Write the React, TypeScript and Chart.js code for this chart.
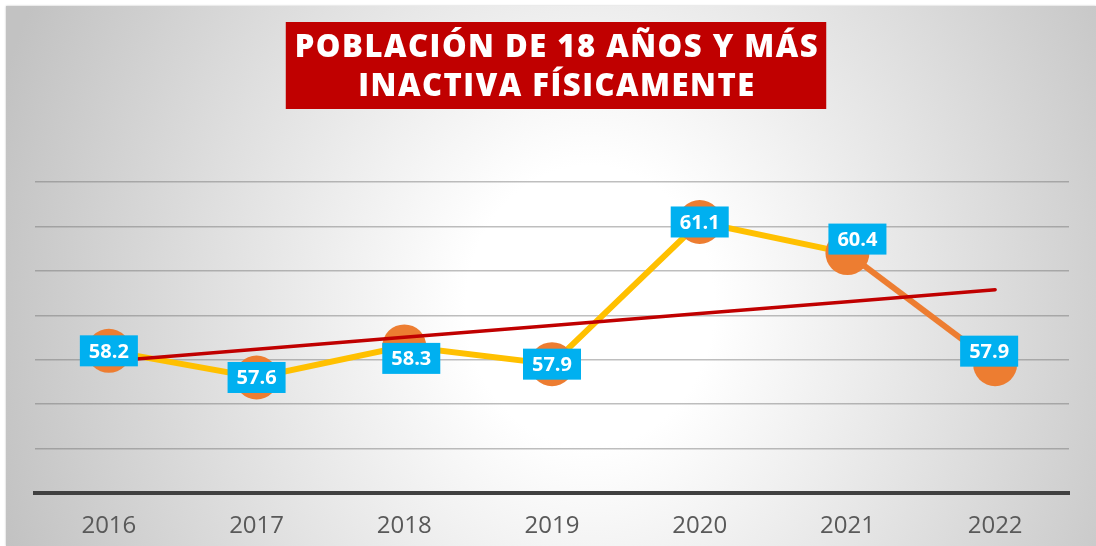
import React, { useEffect, useRef } from "react";
import { Chart, registerables } from "chart.js";

Chart.register(...registerables);

// ---- data ----
const years: string[] = ["2016", "2017", "2018", "2019", "2020", "2021", "2022"];
const inactivity: number[] = [58.2, 57.6, 58.3, 57.9, 61.1, 60.4, 57.9];
const titleLines: string[] = ["POBLACIÓN DE 18 AÑOS Y MÁS", "INACTIVA FÍSICAMENTE"];
const yMin = 55;
const yMax = 62;

// Least-squares linear trend line through the series (as a spreadsheet trendline)
function linearTrend(values: number[]): number[] {
  const n = values.length;
  const mx = (n - 1) / 2;
  const my = values.reduce((a, b) => a + b, 0) / n;
  let sxy = 0;
  let sxx = 0;
  values.forEach((v, i) => {
    sxy += (i - mx) * (v - my);
    sxx += (i - mx) * (i - mx);
  });
  const slope = sxy / sxx;
  return values.map((_, i) => my + slope * (i - mx));
}

// label box nudges (style)
const labelNudge: [number, number][] = [
  [0, 0],
  [0, 0],
  [7, 12],
  [0, 0],
  [0, 0],
  [10, -14],
  [-6, -13],
];

const titlePlugin = {
  id: "titleBox",
  afterDraw(chart: any) {
    const ctx = chart.ctx as CanvasRenderingContext2D;
    ctx.save();
    ctx.font = "800 31px 'Open Sans'";
    (ctx as any).letterSpacing = "1.5px";
    const widths = titleLines.map((l) => ctx.measureText(l).width);
    const boxW = Math.max(...widths) + 16;
    const cx = chart.width / 2 + 5;
    const top = chart.chartArea.top - 160;
    const h = 87;
    ctx.fillStyle = "#C00000";
    ctx.fillRect(cx - boxW / 2, top, boxW, h);
    ctx.fillStyle = "#FFFFFF";
    ctx.textAlign = "center";
    ctx.textBaseline = "middle";
    ctx.fillText(titleLines[0], cx + 1, top + 26);
    ctx.fillText(titleLines[1], cx + 1, top + 65);
    ctx.restore();
  },
};

const labelPlugin = {
  id: "valueLabels",
  afterDatasetsDraw(chart: any) {
    const ctx = chart.ctx as CanvasRenderingContext2D;
    const meta = chart.getDatasetMeta(0);
    ctx.save();
    ctx.font = "bold 20px 'Open Sans'";
    ctx.textAlign = "center";
    ctx.textBaseline = "middle";
    meta.data.forEach((pt: any, i: number) => {
      const text = inactivity[i].toFixed(1);
      const w = ctx.measureText(text).width + 18;
      const h = 31;
      const cx = pt.x + labelNudge[i][0];
      const cy = pt.y + labelNudge[i][1];
      ctx.fillStyle = "#00B0F0";
      ctx.fillRect(cx - w / 2, cy - h / 2, w, h);
      ctx.fillStyle = "#FFFFFF";
      ctx.fillText(text, cx, cy + 1);
    });
    ctx.restore();
  },
};

export default function App() {
  const canvasRef = useRef<HTMLCanvasElement | null>(null);

  useEffect(() => {
    if (!canvasRef.current) return;
    const trend = linearTrend(inactivity);
    const chart = new Chart(canvasRef.current, {
      type: "line",
      data: {
        labels: years,
        datasets: [
          {
            label: "Población inactiva",
            data: inactivity,
            borderColor: "#FFC000",
            borderWidth: 6,
            pointRadius: 22,
            pointHoverRadius: 22,
            pointBackgroundColor: "#ED7D31",
            pointBorderWidth: 0,
            tension: 0,
            order: 2,
            segment: {
              borderColor: (c: any) => (c.p0DataIndex === 5 ? "#ED7D31" : "#FFC000"),
            },
          },
          {
            label: "Tendencia",
            data: trend,
            borderColor: "#C00000",
            borderWidth: 3.5,
            pointRadius: 0,
            tension: 0,
            order: 1,
            borderCapStyle: "round",
          },
        ],
      },
      options: {
        responsive: false,
        animation: false,
        layout: { padding: { left: 29, right: 27, top: 176, bottom: 0 } },
        plugins: {
          legend: { display: false },
          tooltip: { enabled: false },
          title: { display: false },
        },
        scales: {
          x: {
            offset: true,
            grid: { display: true, color: "rgba(0,0,0,0)", drawTicks: false },
            border: { display: true, color: "#404040", width: 4 },
            ticks: {
              color: "#595959",
              font: { family: "'Open Sans'", size: 24 },
              padding: 19,
            },
            afterFit: (scale: any) => {
              scale.height = 53;
            },
          },
          y: {
            min: yMin,
            max: yMax,
            ticks: { display: false, stepSize: 1 },
            border: { display: false },
            grid: {
              drawTicks: false,
              color: (c: any) => (c.tick && c.tick.value === yMin ? "rgba(0,0,0,0)" : "rgba(110,110,110,0.45)"),
              lineWidth: 1.5,
            },
          },
        },
      },
      plugins: [labelPlugin, titlePlugin],
    });
    return () => chart.destroy();
  }, []);

  return (
    <div
      style={{
        position: "absolute",
        left: 6,
        top: 6,
        width: 1090,
        height: 540,
        background:
          "radial-gradient(ellipse 620px 700px at 584px 300px, #ffffff 0%, #ffffff 20%, #c2c2c2 100%)",
        boxShadow: "0 0 2px rgba(0,0,0,0.25)",
      }}
    >
      <canvas ref={canvasRef} width={1090} height={540} style={{ display: "block" }} />
    </div>
  );
}
